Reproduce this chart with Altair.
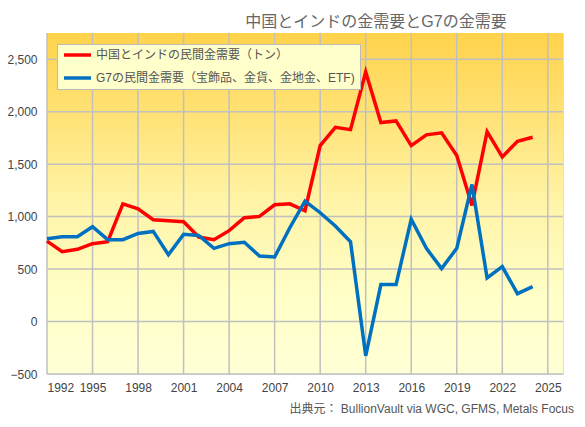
import altair as alt
import pandas as pd

years = list(range(1992, 2025))
china_india = [767, 666, 688, 742, 761, 1122, 1075, 970, 961, 951, 805, 780, 866,
               989, 1002, 1113, 1122, 1056, 1677, 1851, 1829, 2378, 1896, 1912,
               1677, 1779, 1798, 1582, 1107, 1810, 1569, 1718, 1756]
g7 = [790, 808, 808, 904, 780, 780, 840, 859, 637, 831, 821, 698, 742,
      755, 625, 615, 894, 1148, 1037, 910, 761, -327, 352, 352,
      975, 698, 504, 698, 1306, 415, 523, 266, 333]
series_names = ["中国とインドの民間金需要（トン）", "G7の民間金需要（宝飾品、金貨、金地金、ETF)"]
series_colors = ["#FF0000", "#0070C0"]
x_ticks = list(range(1992, 2026, 3))
y_ticks = list(range(-500, 2501, 500))
title_text = "中国とインドの金需要とG7の金需要"
source_text = "出典元： BullionVault via WGC, GFMS, Metals Focus"

W, H = 516, 341
FONT = "Liberation Sans, Noto Sans CJK JP, sans-serif"

df = pd.DataFrame({
    "year": years * 2,
    "value": china_india + g7,
    "series": [series_names[0]] * len(years) + [series_names[1]] * len(years),
})
dummy = pd.DataFrame({"a": [0]})

xscale = alt.Scale(domain=[1992, 2026], nice=False, zero=False)
yscale = alt.Scale(domain=[-500, 2750], nice=False, zero=False)

bg = alt.Chart(dummy).mark_rect(
    color=alt.Gradient(
        gradient="linear",
        stops=[
            alt.GradientStop(color="#FFD24A", offset=0),
            alt.GradientStop(color="#FFE378", offset=0.25),
            alt.GradientStop(color="#FFF4A8", offset=0.5),
            alt.GradientStop(color="#FFFFC8", offset=0.78),
            alt.GradientStop(color="#FFFFD6", offset=1),
        ],
        x1=0, y1=0, x2=0, y2=1,
    )
).encode(x=alt.value(0), x2=alt.value(W), y=alt.value(0), y2=alt.value(H))

vgrid = alt.Chart(pd.DataFrame({"x": x_ticks})).mark_rule(
    color="#C0C0C0", strokeWidth=1.5
).encode(x=alt.X("x:Q", scale=xscale))

hgrid = alt.Chart(pd.DataFrame({"y": y_ticks})).mark_rule(
    color="#C0C0C0", strokeWidth=1.5
).encode(y=alt.Y("y:Q", scale=yscale))

lines = alt.Chart(df).mark_line(strokeWidth=3.5).encode(
    x=alt.X("year:Q", scale=xscale, title=None,
            axis=alt.Axis(values=x_ticks, format="d", grid=False, ticks=False,
                          domain=False, labelPadding=8, labelFontSize=12,
                          labelColor="#444444", labelFont=FONT)),
    y=alt.Y("value:Q", scale=yscale, title=None,
            axis=alt.Axis(values=y_ticks, format=",d", grid=False, ticks=False,
                          domain=False, labelPadding=10, labelFontSize=12,
                          labelColor="#444444", labelFont=FONT)),
    color=alt.Color("series:N",
                    scale=alt.Scale(domain=series_names, range=series_colors),
                    legend=alt.Legend(title=None, orient="none", legendX=10, legendY=11,
                                      fillColor="#FFFFCC", strokeColor="#BBBBBB",
                                      padding=5, symbolType="stroke",
                                      symbolStrokeWidth=3.5, symbolSize=730,
                                      clipHeight=12,
                                      labelFontSize=12, labelColor="#555555",
                                      labelFont=FONT, rowPadding=11, labelOffset=3,
                                      labelLimit=0)),
    order=alt.Order("year:Q"),
)

title = alt.Chart(dummy).mark_text(
    fontSize=16, color="#666666", font=FONT, align="center", baseline="middle"
).encode(x=alt.value(329), y=alt.value(-11), text=alt.value(title_text))

source = alt.Chart(dummy).mark_text(
    fontSize=12, color="#555555", font=FONT, align="right", baseline="middle"
).encode(x=alt.value(527), y=alt.value(376), text=alt.value(source_text))

chart = alt.layer(bg, vgrid, hgrid, lines, title, source).properties(
    width=W, height=H,
    autosize=alt.AutoSizeParams(type="none"),
    padding={"left": 39, "top": 25, "right": 14, "bottom": 44},
).configure_view(stroke="#BBBBBB", strokeWidth=1.5).configure(background="white")

chart.save("out.html", embed_options={"renderer": "svg", "actions": False})
